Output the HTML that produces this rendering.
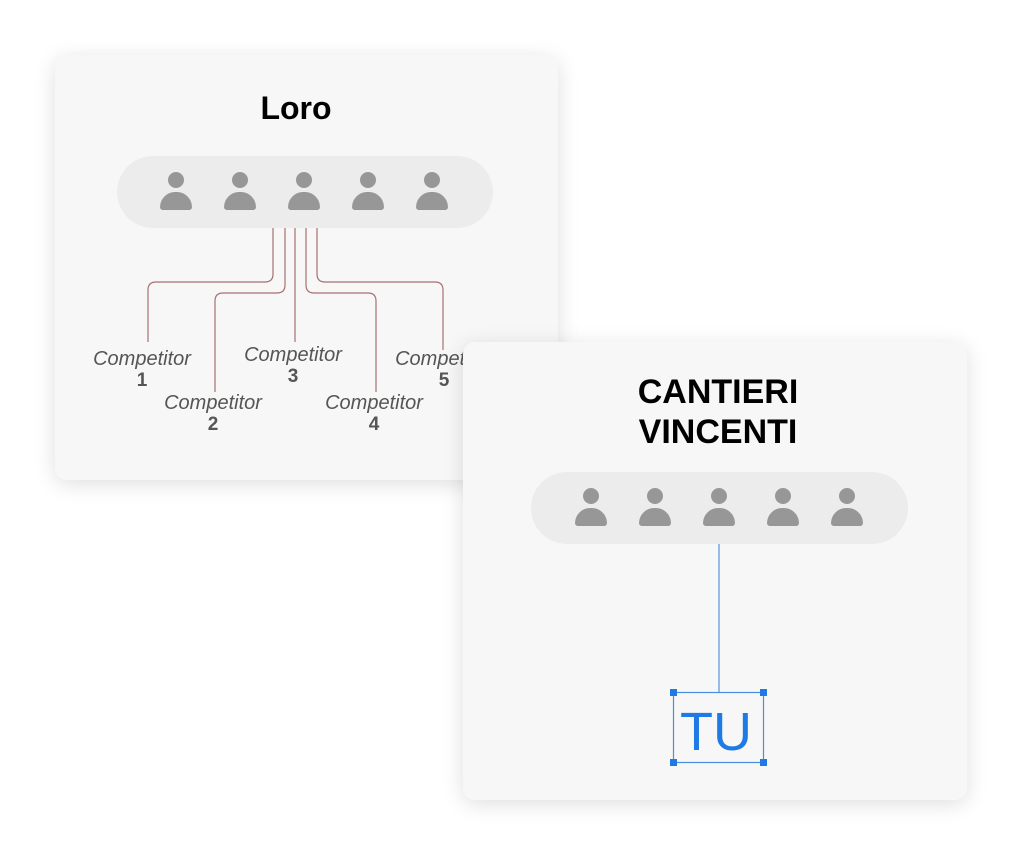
<!DOCTYPE html>
<html><head><meta charset="utf-8"><style>
body{margin:0;width:1024px;height:857px;background:#fff;position:relative;overflow:hidden;font-family:"Liberation Sans",sans-serif}
.card{position:absolute;background:#f7f7f7;border-radius:12px;box-shadow:0 4px 22px rgba(0,0,0,0.13)}
.pill{position:absolute;background:#ececec;border-radius:36px}
.p{position:absolute;width:32px;height:40px}
.p:before{content:"";position:absolute;left:8px;top:0;width:16px;height:16px;border-radius:50%;background:#979797}
.p:after{content:"";position:absolute;left:0;top:20px;width:32px;height:18px;border-radius:16px 16px 3px 3px;background:#979797}
.t{position:absolute;font-weight:bold;font-size:32px;color:#000;text-align:center}
.c{position:absolute;color:#555;font-size:20px;text-align:center;width:140px;line-height:21px}
.c i{display:block}
.c b{display:block;font-size:19px}
</style></head><body>
<div class="card" style="left:55px;top:55px;width:503px;height:425px"></div>
<div class="t" style="left:196px;top:90px;width:200px">Loro</div>
<div class="pill" style="left:117px;top:156px;width:376px;height:72px"></div>
<div class="p" style="left:160px;top:172px"></div>
<div class="p" style="left:224px;top:172px"></div>
<div class="p" style="left:288px;top:172px"></div>
<div class="p" style="left:352px;top:172px"></div>
<div class="p" style="left:416px;top:172px"></div>
<svg style="position:absolute;left:0;top:0" width="1024" height="857">
<g fill="none" stroke="#a87070" stroke-width="1.2">
<path d="M273 228 V274 Q273 282 265 282 H156 Q148 282 148 290 V342"/>
<path d="M285 228 V285 Q285 293 277 293 H223 Q215 293 215 301 V392"/>
<path d="M295 228 V342"/>
<path d="M306 228 V285 Q306 293 314 293 H368 Q376 293 376 301 V392"/>
<path d="M317 228 V274 Q317 282 325 282 H435 Q443 282 443 290 V350"/>
</g></svg>
<div class="c" style="left:72px;top:349px"><i>Competitor</i><b>1</b></div>
<div class="c" style="left:143px;top:393px"><i>Competitor</i><b>2</b></div>
<div class="c" style="left:223px;top:345px"><i>Competitor</i><b>3</b></div>
<div class="c" style="left:304px;top:393px"><i>Competitor</i><b>4</b></div>
<div class="c" style="left:374px;top:349px"><i>Competitor</i><b>5</b></div>

<div class="card" style="left:463px;top:342px;width:504px;height:458px"></div>
<div class="t" style="left:568px;top:372px;width:300px;line-height:40px;font-size:34px">CANTIERI<br>VINCENTI</div>
<div class="pill" style="left:531px;top:472px;width:377px;height:72px"></div>
<div class="p" style="left:575px;top:488px"></div>
<div class="p" style="left:639px;top:488px"></div>
<div class="p" style="left:703px;top:488px"></div>
<div class="p" style="left:767px;top:488px"></div>
<div class="p" style="left:831px;top:488px"></div>
<svg style="position:absolute;left:0;top:0" width="1024" height="857">
<line x1="719" y1="544" x2="719" y2="692" stroke="#5a93dc" stroke-width="1.2"/>
<rect x="673.5" y="692.5" width="90" height="70" fill="none" stroke="#4a8ee0" stroke-width="1.2"/>
<g fill="#1f7ae6"><rect x="670" y="689" width="7" height="7"/><rect x="760" y="689" width="7" height="7"/><rect x="670" y="759" width="7" height="7"/><rect x="760" y="759" width="7" height="7"/></g>
<text x="716" y="750" font-family="Liberation Sans, sans-serif" font-size="54" fill="#1f7ae6" text-anchor="middle">TU</text>
</svg>
</body></html>
